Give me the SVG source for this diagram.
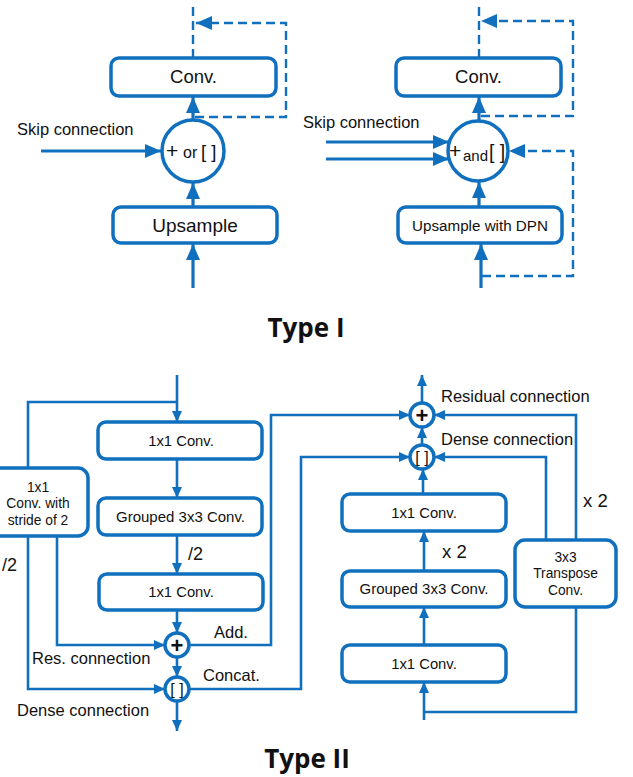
<svg xmlns="http://www.w3.org/2000/svg" width="633" height="777" viewBox="0 0 633 777">
<style>
.box{fill:#fff;stroke:#1170BE;stroke-width:3.5}
.ln{fill:none;stroke:#1170BE;stroke-width:3.2}
.ln2{fill:none;stroke:#1170BE;stroke-width:2.6}
.dash{fill:none;stroke:#1170BE;stroke-width:2.4;stroke-dasharray:9,5}
.t{font-family:"Liberation Sans",Arial,sans-serif;fill:#111}
.plus{font-family:"Liberation Sans",Arial,sans-serif;fill:#111;font-weight:bold;font-size:22px}
.title{font-family:"Open Sans","DejaVu Sans",sans-serif;font-weight:bold;fill:#111;font-size:26px}
</style>
<defs>
<marker id="ab" markerUnits="userSpaceOnUse" markerWidth="17" markerHeight="15" refX="16" refY="7" orient="auto">
<path d="M0,0 L16,7 L0,14 z" fill="#1170BE"/>
</marker>
<marker id="as" markerUnits="userSpaceOnUse" markerWidth="12" markerHeight="11" refX="11" refY="5" orient="auto">
<path d="M0,0 L11,5 L0,10 z" fill="#1170BE"/>
</marker>
</defs>

<g id="connectors">
<!-- Type I left -->
<path class="ln" d="M193,120 V97" marker-end="url(#ab)"/>
<path class="ln" d="M193,207 V183" marker-end="url(#ab)"/>
<path class="ln" d="M193,288 V244" marker-end="url(#ab)"/>
<path class="ln" d="M41,151 H161" marker-end="url(#ab)"/>
<path class="dash" d="M193,58 V5"/>
<path class="dash" d="M195,117 H286 V23 H196" marker-end="url(#ab)"/>
<!-- Type I right -->
<path class="ln" d="M479,121 V97" marker-end="url(#ab)"/>
<path class="ln" d="M479,207 V182" marker-end="url(#ab)"/>
<path class="ln" d="M481,288 V244" marker-end="url(#ab)"/>
<path class="ln" d="M326,142 H449" marker-end="url(#ab)"/>
<path class="ln" d="M326,159 H449" marker-end="url(#ab)"/>
<path class="dash" d="M479,58 V5"/>
<path class="dash" d="M481,116 H573 V21 H481" marker-end="url(#ab)"/>
<path class="dash" d="M482,276 H573 V151 H509" marker-end="url(#ab)"/>
<!-- Type II left -->
<path class="ln2" d="M177,375 V422" marker-end="url(#as)"/>
<path class="ln2" d="M177,402 H28 V468"/>
<path class="ln2" d="M177,459 V498" marker-end="url(#as)"/>
<path class="ln2" d="M177,535 V574" marker-end="url(#as)"/>
<path class="ln2" d="M177,610 V633" marker-end="url(#as)"/>
<path class="ln2" d="M57,536 V645 H165" marker-end="url(#as)"/>
<path class="ln2" d="M177,657 V677" marker-end="url(#as)"/>
<path class="ln2" d="M28,536 V689 H165" marker-end="url(#as)"/>
<path class="ln2" d="M177,701 V731" marker-end="url(#as)"/>
<path class="ln2" d="M189,645 H271 V415 H410" marker-end="url(#as)"/>
<path class="ln2" d="M189,689 H301 V457 H410" marker-end="url(#as)"/>
<!-- Type II right -->
<path class="ln2" d="M422,403 V375" marker-end="url(#as)"/>
<path class="ln2" d="M422,445 V427" marker-end="url(#as)"/>
<path class="ln2" d="M423,494 V469" marker-end="url(#as)"/>
<path class="ln2" d="M424,571 V531" marker-end="url(#as)"/>
<path class="ln2" d="M424,645 V607" marker-end="url(#as)"/>
<path class="ln2" d="M424,720 V682" marker-end="url(#as)"/>
<path class="ln2" d="M424,712 H576 V607"/>
<path class="ln2" d="M546,540 V457 H434" marker-end="url(#as)"/>
<path class="ln2" d="M576,540 V415 H434" marker-end="url(#as)"/>
</g>

<g id="conv1">
<rect class="box" x="111" y="58" width="165" height="38" rx="8"/>
<text class="t" x="193.5" y="83" font-size="18.5" text-anchor="middle">Conv.</text>
</g>
<g id="merge1">
<circle class="box" cx="193" cy="151" r="31"/>
<text class="t" x="166" y="158" font-size="21">+</text>
<text class="t" x="183" y="158" font-size="16">or</text>
<text class="t" x="201" y="157.5" font-size="18.5">[ ]</text>
</g>
<g id="upsample1">
<rect class="box" x="113" y="207" width="164" height="36" rx="8"/>
<text class="t" x="195" y="232" font-size="19" text-anchor="middle">Upsample</text>
</g>
<g id="skip1"><text class="t" x="17" y="135" font-size="16.5">Skip connection</text></g>

<g id="conv2">
<rect class="box" x="396" y="58" width="165" height="38" rx="8"/>
<text class="t" x="478.5" y="83" font-size="18.5" text-anchor="middle">Conv.</text>
</g>
<g id="merge2">
<circle class="box" cx="478" cy="151" r="30"/>
<text class="t" x="449" y="158" font-size="21">+</text>
<text class="t" x="463" y="161" font-size="15">and</text>
<text class="t" x="489" y="159" font-size="19.5">[ ]</text>
</g>
<g id="upsample2">
<rect class="box" x="398" y="207" width="164" height="36" rx="8"/>
<text class="t" x="480" y="231" font-size="15.2" text-anchor="middle">Upsample with DPN</text>
</g>
<g id="skip2"><text class="t" x="303" y="128" font-size="16.5">Skip connection</text></g>

<g id="title1"><text class="title" x="306" y="337" text-anchor="middle">Type I</text></g>

<!-- Type II left -->
<g id="strideconv">
<rect class="box" x="-12" y="468" width="100" height="68" rx="10"/>
<text class="t" x="38" y="491.5" font-size="13.8" text-anchor="middle">1x1</text>
<text class="t" x="38" y="508" font-size="13.8" text-anchor="middle">Conv. with</text>
<text class="t" x="38" y="525" font-size="13.8" text-anchor="middle">stride of 2</text>
</g>
<g id="conv1x1a">
<rect class="box" x="98" y="422" width="164" height="37" rx="8"/>
<text class="t" x="181" y="446" font-size="14.8" text-anchor="middle">1x1 Conv.</text>
</g>
<g id="grouped_a">
<rect class="box" x="98" y="498" width="164" height="37" rx="8"/>
<text class="t" x="180.5" y="522" font-size="15" text-anchor="middle">Grouped 3x3 Conv.</text>
</g>
<g id="conv1x1b">
<rect class="box" x="99" y="574" width="164" height="36" rx="8"/>
<text class="t" x="181" y="596.5" font-size="14.8" text-anchor="middle">1x1 Conv.</text>
</g>
<g id="add_a">
<circle class="box" cx="177" cy="645" r="12" stroke-width="3"/>
<text class="plus" x="177" y="652.5" text-anchor="middle">+</text>
</g>
<g id="cat_a">
<circle class="box" cx="177" cy="689" r="12" stroke-width="3"/>
<text class="t" x="177" y="695" font-size="16" text-anchor="middle">[ ]</text>
</g>
<g id="labels_left">
<text class="t" x="188" y="560" font-size="18">/2</text>
<text class="t" x="2" y="571" font-size="18">/2</text>
<text class="t" x="214" y="638" font-size="16.5">Add.</text>
<text class="t" x="32" y="664" font-size="16.5">Res. connection</text>
<text class="t" x="203" y="681" font-size="16.5">Concat.</text>
<text class="t" x="17" y="716" font-size="16.5">Dense connection</text>
</g>

<!-- Type II right -->
<g id="add_b">
<circle class="box" cx="422" cy="415" r="12" stroke-width="3"/>
<text class="plus" x="422" y="422.5" text-anchor="middle">+</text>
</g>
<g id="cat_b">
<circle class="box" cx="422" cy="457" r="12" stroke-width="3"/>
<text class="t" x="422" y="463" font-size="16" text-anchor="middle">[ ]</text>
</g>
<g id="conv1x1c">
<rect class="box" x="342" y="494" width="164" height="37" rx="8"/>
<text class="t" x="424" y="518" font-size="14.8" text-anchor="middle">1x1 Conv.</text>
</g>
<g id="grouped_b">
<rect class="box" x="342" y="571" width="164" height="36" rx="8"/>
<text class="t" x="424" y="594" font-size="15" text-anchor="middle">Grouped 3x3 Conv.</text>
</g>
<g id="conv1x1d">
<rect class="box" x="342" y="645" width="164" height="37" rx="8"/>
<text class="t" x="424" y="669" font-size="14.8" text-anchor="middle">1x1 Conv.</text>
</g>
<g id="transpose">
<rect class="box" x="515" y="540" width="101" height="67" rx="10"/>
<text class="t" x="565.5" y="561.5" font-size="13.8" text-anchor="middle">3x3</text>
<text class="t" x="565.5" y="578" font-size="13.8" text-anchor="middle">Transpose</text>
<text class="t" x="565.5" y="595" font-size="13.8" text-anchor="middle">Conv.</text>
</g>
<g id="labels_right">
<text class="t" x="441" y="402" font-size="16.5">Residual connection</text>
<text class="t" x="441" y="445" font-size="16.5">Dense connection</text>
<text class="t" x="442" y="557.5" font-size="18.5">x 2</text>
<text class="t" x="583" y="506.5" font-size="18.5">x 2</text>
</g>

<g id="title2"><text class="title" x="307" y="768" text-anchor="middle">Type II</text></g>
</svg>
